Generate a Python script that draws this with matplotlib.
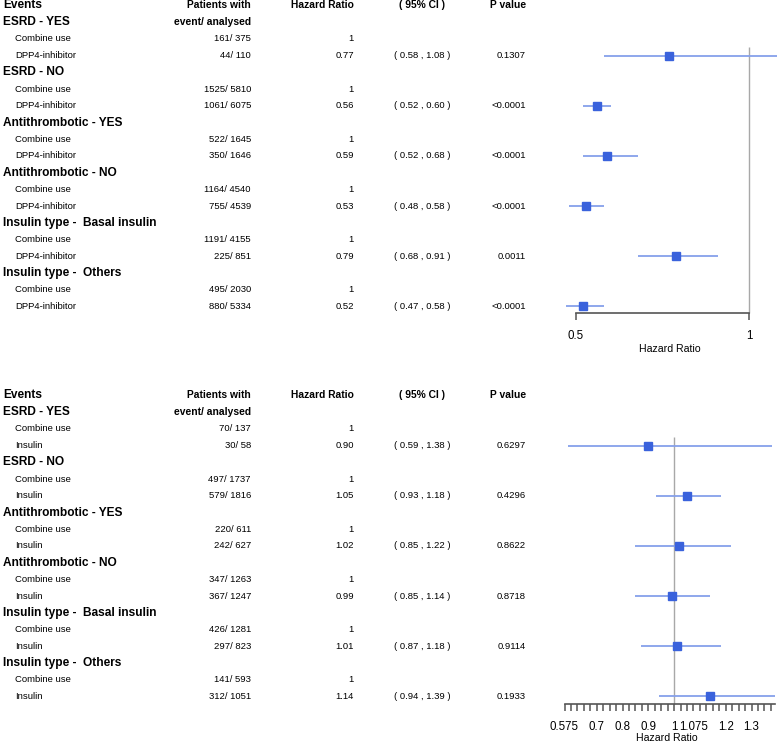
import numpy as np
import matplotlib
matplotlib.use("Agg")
import matplotlib.pyplot as plt

plt.rcParams['font.family'] = ['Liberation Sans', 'DejaVu Sans']

# ---------------- data ----------------
groups = ["ESRD - YES", "ESRD - NO", "Antithrombotic - YES", "Antithrombotic - NO",
          "Insulin type -  Basal insulin", "Insulin type -  Others"]
ref_label = "Combine use"

top_trt_label = "DPP4-inhibitor"
top_ref_counts = ["161/ 375", "1525/ 5810", "522/ 1645", "1164/ 4540", "1191/ 4155", "495/ 2030"]
top_trt_counts = ["44/ 110", "1061/ 6075", "350/ 1646", "755/ 4539", "225/ 851", "880/ 5334"]
top_hr = [0.77, 0.56, 0.59, 0.53, 0.79, 0.52]
top_lo = [0.58, 0.52, 0.52, 0.48, 0.68, 0.47]
top_hi = [1.08, 0.60, 0.68, 0.58, 0.91, 0.58]
top_p = ["0.1307", "<0.0001", "<0.0001", "<0.0001", "0.0011", "<0.0001"]
top_ticks = [0.5, 1]
top_ticklabels = ["0.5", "1"]

bot_trt_label = "Insulin"
bot_ref_counts = ["70/ 137", "497/ 1737", "220/ 611", "347/ 1263", "426/ 1281", "141/ 593"]
bot_trt_counts = ["30/ 58", "579/ 1816", "242/ 627", "367/ 1247", "297/ 823", "312/ 1051"]
bot_hr = [0.90, 1.05, 1.02, 0.99, 1.01, 1.14]
bot_lo = [0.59, 0.93, 0.85, 0.85, 0.87, 0.94]
bot_hi = [1.38, 1.18, 1.22, 1.14, 1.18, 1.39]
bot_p = ["0.6297", "0.4296", "0.8622", "0.8718", "0.9114", "0.1933"]
bot_ticks = [0.575, 0.7, 0.8, 0.9, 1, 1.075, 1.2, 1.3]
bot_ticklabels = ["0.575", "0.7", "0.8", "0.9", "1", "1.075", "1.2", "1.3"]

# ---------------- layout ----------------
W, H = 779, 744
fig = plt.figure(figsize=(W / 100, H / 100), dpi=100)
tax = fig.add_axes([0, 0, 1, 1])
tax.set_xlim(0, W)
tax.set_ylim(H, 0)
tax.axis('off')

ROW_H = 16.72
BOLD_BIG = 8.6
BOLD_HDR = 7.4
NORM = 6.8
MARK_C = '#3a62dc'
LINE_C = '#86a0ea'
AX_C = '#555555'


def row_y(y0, i):
    return y0 + 5.5 + ROW_H * i


def add_axes_px(x0, x1, y0, y1):
    return fig.add_axes([x0 / W, 1 - y1 / H, (x1 - x0) / W, (y1 - y0) / H])


def panel(y0, trt_label, ref_counts, trt_counts, hr, lo, hi, pvals,
          ax_x0, px_a, val_a, px_b, val_b, axis_y, bounds, ticks, ticklabels, minor, labelpad):
    # header
    tax.text(3, row_y(y0, 0), "Events", fontsize=BOLD_BIG, fontweight='bold', va='center', ha='left')
    tax.text(251, row_y(y0, 0), "Patients with", fontsize=BOLD_HDR, fontweight='bold', va='center', ha='right')
    tax.text(251, row_y(y0, 1), "event/ analysed", fontsize=BOLD_HDR, fontweight='bold', va='center', ha='right')
    tax.text(354, row_y(y0, 0), "Hazard Ratio", fontsize=BOLD_HDR, fontweight='bold', va='center', ha='right')
    tax.text(422, row_y(y0, 0), "( 95% CI )", fontsize=BOLD_HDR, fontweight='bold', va='center', ha='center')
    tax.text(526, row_y(y0, 0), "P value", fontsize=BOLD_HDR, fontweight='bold', va='center', ha='right')
    rows = []
    for g, name in enumerate(groups):
        r0 = 1 + 3 * g
        tax.text(3, row_y(y0, r0), name, fontsize=BOLD_BIG, fontweight='bold', va='center', ha='left')
        tax.text(15, row_y(y0, r0 + 1), ref_label, fontsize=NORM, va='center', ha='left')
        tax.text(251, row_y(y0, r0 + 1), ref_counts[g], fontsize=NORM, va='center', ha='right')
        tax.text(354, row_y(y0, r0 + 1), "1", fontsize=NORM, va='center', ha='right')
        tax.text(15, row_y(y0, r0 + 2), trt_label, fontsize=NORM, va='center', ha='left')
        tax.text(251, row_y(y0, r0 + 2), trt_counts[g], fontsize=NORM, va='center', ha='right')
        tax.text(354, row_y(y0, r0 + 2), f"{hr[g]:.2f}", fontsize=NORM, va='center', ha='right')
        tax.text(422, row_y(y0, r0 + 2), f"( {lo[g]:.2f} , {hi[g]:.2f} )", fontsize=NORM, va='center', ha='center')
        tax.text(526, row_y(y0, r0 + 2), pvals[g], fontsize=NORM, va='center', ha='right')
        rows.append(r0 + 2)

    # forest axes
    slope = (px_b - px_a) / (val_b - val_a)
    ax = add_axes_px(ax_x0, W, y0, axis_y)
    ax.set_xlim(val_a + (ax_x0 - px_a) / slope, val_a + (W - px_a) / slope)
    ybot = (axis_y - y0 - 5.5) / ROW_H
    ytop = (0 - 5.5) / ROW_H
    ax.set_ylim(ybot, ytop)
    ax.patch.set_alpha(0)
    ax.vlines(1, 2.5, ybot, color='#a8a8a8', lw=1.0, zorder=1, clip_on=False)
    ax.hlines(rows, lo, hi, color=LINE_C, lw=1.3, zorder=2, clip_on=False)
    ax.plot(hr, rows, 's', color=MARK_C, ms=6.4, mec=MARK_C, zorder=3, clip_on=False)
    for s in ['top', 'left', 'right']:
        ax.spines[s].set_visible(False)
    ax.spines['bottom'].set_bounds(*bounds)
    ax.spines['bottom'].set_color(AX_C)
    ax.spines['bottom'].set_linewidth(1.2)
    ax.set_yticks([])
    ax.set_xticks(ticks)
    ax.set_xticklabels(ticklabels)
    if minor is not None:
        ax.set_xticks(minor, minor=True)
    ax.tick_params(axis='x', which='both', direction='out', length=5, width=1.1,
                   color=AX_C, labelsize=8.3, pad=7.5)
    ax.set_xlabel("Hazard Ratio", fontsize=7.6, labelpad=labelpad)
    return ax


panel(0, top_trt_label, top_ref_counts, top_trt_counts, top_hr, top_lo, top_hi, top_p,
      ax_x0=560, px_a=576, val_a=0.5, px_b=749, val_b=1.0, axis_y=313,
      bounds=(0.5, 1.0), ticks=top_ticks, ticklabels=top_ticklabels, minor=None, labelpad=1.5)

minor_bot = np.round(np.arange(0.575, 1.39, 0.025), 3)
panel(390, bot_trt_label, bot_ref_counts, bot_trt_counts, bot_hr, bot_lo, bot_hi, bot_p,
      ax_x0=555, px_a=564.5, val_a=0.575, px_b=751.5, val_b=1.3, axis_y=704,
      bounds=(0.575, 1.39), ticks=bot_ticks, ticklabels=bot_ticklabels, minor=minor_bot, labelpad=-0.5)

fig.savefig("out.png", dpi=100)
